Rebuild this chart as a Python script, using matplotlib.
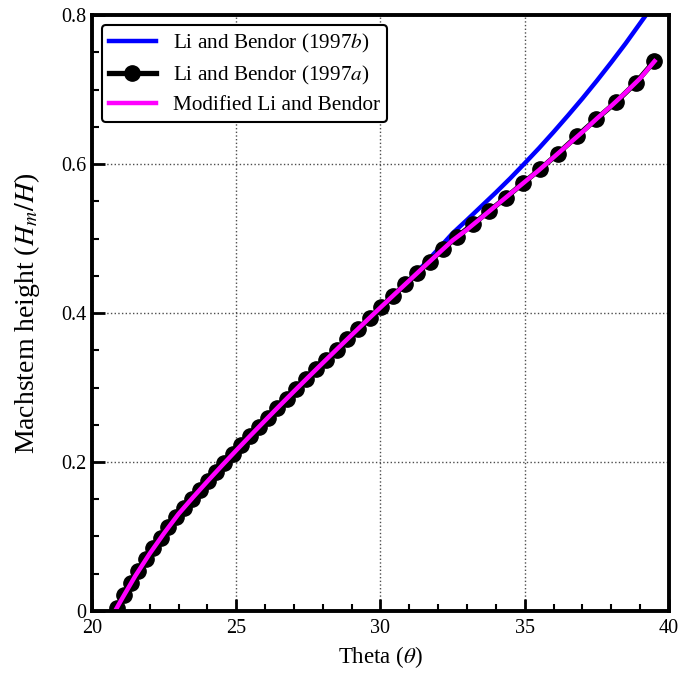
import numpy as np
import matplotlib
matplotlib.use("Agg")
import matplotlib.pyplot as plt
from matplotlib.ticker import MultipleLocator, FormatStrFormatter

plt.rcParams['font.family'] = ['Liberation Serif', 'DejaVu Serif']
plt.rcParams['mathtext.fontset'] = 'stix'

# Li and Bendor (1997b) - blue curve
theta_b = [20.8, 21.0, 21.5, 22.0, 22.5, 23.0, 23.5, 24.0, 24.5, 25.0, 25.5, 26.0,
           26.5, 27.0, 27.5, 28.0, 28.5, 29.0, 29.5, 30.0, 30.5, 31.0, 31.5, 32.0,
           32.5, 33.0, 33.5, 34.0, 34.5, 35.0, 35.5, 36.0, 36.5, 37.0, 37.5, 38.0,
           38.5, 39.0, 39.5]
hm_b = [0.0, 0.0138, 0.047, 0.077, 0.1045, 0.1303, 0.1525, 0.174, 0.195, 0.2156,
        0.2358, 0.2557, 0.2754, 0.2948, 0.314, 0.333, 0.3518, 0.3705, 0.389, 0.4074,
        0.4256, 0.4447, 0.4648, 0.4857, 0.507, 0.525, 0.5434, 0.5618, 0.5809, 0.601,
        0.6215, 0.6430, 0.6652, 0.688, 0.7118, 0.7365, 0.7620, 0.789, 0.816]

# Li and Bendor (1997a) - black markers
theta_a = [20.86, 21.11, 21.36, 21.61, 21.87, 22.13, 22.39, 22.65, 22.92, 23.19,
           23.46, 23.74, 24.02, 24.30, 24.59, 24.88, 25.18, 25.48, 25.79, 26.10,
           26.42, 26.75, 27.08, 27.42, 27.77, 28.12, 28.48, 28.85, 29.23, 29.62,
           30.02, 30.43, 30.85, 31.27, 31.70, 32.16, 32.64, 33.20, 33.77, 34.35,
           34.93, 35.53, 36.15, 36.80, 37.47, 38.16, 38.85, 39.49]
hm_a = [0.004, 0.0212, 0.0376, 0.0538, 0.0692, 0.0843, 0.0985, 0.1123, 0.1263, 0.1388,
        0.1508, 0.1629, 0.1749, 0.1867, 0.1988, 0.2107, 0.2229, 0.235, 0.2474, 0.2597,
        0.2722, 0.2851, 0.2979, 0.3109, 0.3242, 0.3375, 0.351, 0.3649, 0.379, 0.3934,
        0.4081, 0.4231, 0.4383, 0.4535, 0.4689, 0.4854, 0.502, 0.519, 0.537, 0.555,
        0.574, 0.593, 0.614, 0.637, 0.660, 0.683, 0.709, 0.738]

# Modified Li and Bendor - magenta curve
theta_m = [20.8, 21.0, 21.5, 22.0, 22.5, 23.0, 23.5, 24.0, 24.5, 25.0, 25.5, 26.0,
           26.5, 27.0, 27.5, 28.0, 28.5, 29.0, 29.5, 30.0, 30.5, 31.0, 31.5, 32.0,
           32.5, 33.0, 33.5, 34.0, 34.5, 35.0, 35.5, 36.0, 36.5, 37.0, 37.5, 38.0,
           38.5, 39.0, 39.5]
hm_m = [0.0, 0.0138, 0.047, 0.077, 0.1045, 0.1303, 0.1525, 0.174, 0.195, 0.2156,
        0.2358, 0.2557, 0.2754, 0.2948, 0.314, 0.333, 0.3518, 0.3705, 0.389, 0.4074,
        0.4256, 0.4437, 0.4618, 0.4797, 0.4975, 0.512, 0.528, 0.544, 0.560, 0.576,
        0.592, 0.609, 0.626, 0.643, 0.661, 0.678, 0.696, 0.715, 0.738]

fig = plt.figure(figsize=(6.8, 6.77), dpi=100)
ax = fig.add_axes([0.1353, 0.0975, 0.8485, 0.8803])

ax.plot(theta_b, hm_b, color='blue', lw=3.2, label='Li and Bendor (1997$b$)')
ax.plot(theta_a, hm_a, color='black', lw=3.8, marker='o', markersize=11,
        label='Li and Bendor (1997$a$)')
ax.plot(theta_m, hm_m, color='magenta', lw=3.2, label='Modified Li and Bendor')

ax.set_xlim(20, 40)
ax.set_ylim(0, 0.8)
ax.xaxis.set_major_locator(MultipleLocator(5))
ax.xaxis.set_minor_locator(MultipleLocator(1))
ax.yaxis.set_major_locator(MultipleLocator(0.2))
ax.yaxis.set_minor_locator(MultipleLocator(0.05))
ax.yaxis.set_major_formatter(FormatStrFormatter('%g'))
ax.xaxis.set_major_formatter(FormatStrFormatter('%g'))

ax.tick_params(which='both', direction='in', top=False, right=False, labelsize=14.5)
ax.tick_params(which='major', length=9, width=2, pad=6)
ax.tick_params(axis='y', which='major', pad=4)
ax.tick_params(which='minor', length=5, width=1.5)
for s in ax.spines.values():
    s.set_linewidth(2.8)

ax.grid(True, which='major', linestyle=':', color='0.3', linewidth=1)

ax.set_xlabel(r'Theta ($\theta$)', fontsize=16.5, labelpad=4)
ax.set_ylabel(r'Machstem height ($H_m/H$)', fontsize=20, labelpad=14)

leg = ax.legend(loc='upper left', fontsize=15.3, handlelength=2.2, handletextpad=0.8,
                frameon=True, fancybox=True, framealpha=1, borderpad=0.35,
                labelspacing=0.4, borderaxespad=0.45)
leg.get_frame().set_edgecolor('black')
leg.get_frame().set_linewidth(1.5)

fig.savefig('out.png', dpi=100)
